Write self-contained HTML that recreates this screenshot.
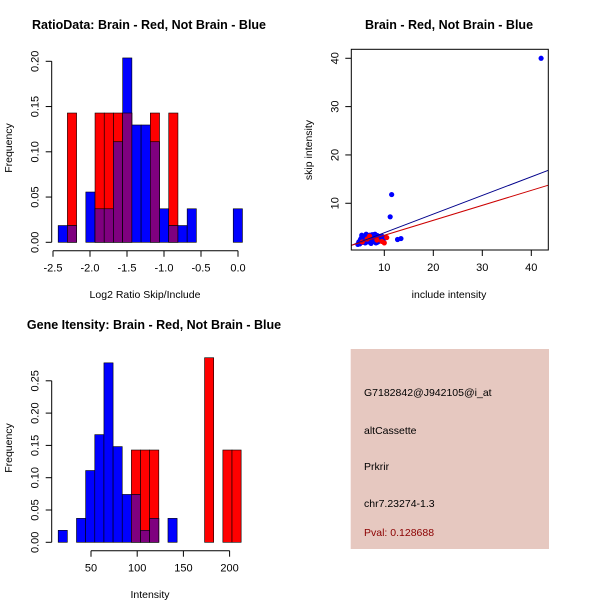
<!DOCTYPE html>
<html><head><meta charset="utf-8"><style>
body{margin:0;background:#fff;}
svg{display:block;font-family:"Liberation Sans",sans-serif;}
</style></head><body>
<svg id="c" width="600" height="600" viewBox="0 0 600 600">
<rect width="600" height="600" fill="#fff"/>
</svg>
<script>
// ---- Data: ratio histogram ----
const ratioBinStart = -2.43;
const ratioBinWidth = 0.1245;
const ratioRedCounts = [0,1,0,0,1,1,1,1,0,0,1,0,1,0,0,0,0,0,0,0];
const ratioBlueCounts = [1,1,0,3,2,2,6,11,7,7,6,2,1,1,2,0,0,0,0,2];
const ratioRedTotal = 7, ratioBlueTotal = 54;
const ratioXTicks = [-2.5,-2.0,-1.5,-1.0,-0.5,0.0];
const ratioXTickLabels = ["-2.5","-2.0","-1.5","-1.0","-0.5","0.0"];
const ratioYTicks = [0,0.05,0.10,0.15,0.20];
const ratioYTickLabels = ["0.00","0.05","0.10","0.15","0.20"];
// ---- Data: intensity histogram ----
const intBinStart = 14.5;
const intBinWidth = 9.9;
const intRedCounts = [0,0,0,0,0,0,0,0,1,1,1,0,0,0,0,0,2,0,1,1];
const intBlueCounts = [1,0,2,6,9,15,8,4,4,1,2,0,2,0,0,0,0,0,0,0];
const intRedTotal = 7, intBlueTotal = 54;
const intXTicks = [50,100,150,200];
const intXTickLabels = ["50","100","150","200"];
const intYTicks = [0,0.05,0.10,0.15,0.20,0.25];
const intYTickLabels = ["0.00","0.05","0.10","0.15","0.20","0.25"];
// ---- Data: scatter ----
const blueX = [42.0,11.5,11.2,12.7,13.4,4.8,5.1,5.3,5.6,5.8,6.0,6.2,6.4,6.6,6.8,7.0,7.2,7.4,7.6,7.8,8.0,8.2,8.4,8.6,8.8,9.0,9.3,9.6,10.0,5.0,5.5,6.1,6.7,7.3,7.9,8.5,9.1,5.4,6.3,7.1,8.1,8.9,9.8,10.4,4.6,5.9,6.9,7.7,8.7,6.5,7.5,5.2,8.3,9.5];
const blueY = [40.0,11.8,7.2,2.5,2.7,2.0,2.4,2.8,3.1,2.2,2.9,3.3,2.5,3.0,2.1,3.4,2.6,3.2,2.3,3.5,2.7,3.0,2.4,3.3,2.8,2.2,3.0,2.6,2.9,1.6,1.9,1.8,2.0,1.7,2.1,1.9,2.3,3.4,3.6,2.0,3.6,3.1,2.5,2.9,1.5,2.7,3.1,2.8,2.0,2.3,3.5,2.6,1.8,3.2];
const redX = [10.0,10.5,7.0,6.5,8.5,9.5,5.5];
const redY = [1.8,2.9,3.2,2.6,2.4,2.1,2.0];
const blueFit = [0.04,0.386];
const redFit = [0.27,0.31];
const scXTicks = [10,20,30,40];
const scXTickLabels = ["10","20","30","40"];
const scYTicks = [10,20,30,40];
const scYTickLabels = ["10","20","30","40"];

const svg = document.getElementById('c');
const NS = 'http://www.w3.org/2000/svg';
function mk(tag, attrs, parent){const e=document.createElementNS(NS,tag);for(const k in attrs)e.setAttribute(k,attrs[k]);(parent||svg).appendChild(e);return e;}
function txt(s, attrs, parent){const e=mk('text',attrs,parent);e.textContent=s;return e;}

function histogram(o){
  const g = mk('g',{});
  
  
  const xs = v => o.x0 + (v - o.xv0) * o.xk;
  const ys = v => o.base - v * o.yk;
  for(let i=0;i<o.red.length;i++){
    const l = xs(o.start + i*o.w), r = xs(o.start + (i+1)*o.w);
    const rv = o.red[i]/o.redT, bv = o.blue[i]/o.blueT;
    if(rv>0){const b=mk('rect',{x:l,y:ys(rv),width:r-l,height:ys(0)-ys(rv),fill:'#ff0000',stroke:'#000','stroke-width':0.6},g);
      
      }
    if(bv>0){const b=mk('rect',{x:l,y:ys(bv),width:r-l,height:ys(0)-ys(bv),fill:'#0000ff',stroke:'#000','stroke-width':0.6},g);
      
      }
    const m=Math.min(rv,bv);
    if(m>0){const b=mk('rect',{x:l,y:ys(m),width:r-l,height:ys(0)-ys(m),fill:'#7f007f',stroke:'#000','stroke-width':0.6},g);
      
      }
  }
  // y axis
  const ya = mk('g',{},g);
  
  
  const yt=o.yTicks;
  mk('line',{x1:o.yAxisX,x2:o.yAxisX,y1:ys(yt[0]),y2:ys(yt[yt.length-1]),stroke:'#000'},ya);
  yt.forEach((v,i)=>{mk('line',{x1:o.yAxisX-6,x2:o.yAxisX,y1:ys(v),y2:ys(v),stroke:'#000'},ya);
    txt(o.yLabels[i],{x:o.yAxisX-13,y:ys(v),'font-size':11,'text-anchor':'middle',transform:`rotate(-90 ${o.yAxisX-13} ${ys(v)})`},ya);});
  const xa = mk('g',{},g);
  
  
  const xt=o.xTicks;
  mk('line',{x1:xs(xt[0]),x2:xs(xt[xt.length-1]),y1:o.xAxisY,y2:o.xAxisY,stroke:'#000'},xa);
  xt.forEach((v,i)=>{mk('line',{x1:xs(v),x2:xs(v),y1:o.xAxisY,y2:o.xAxisY+6,stroke:'#000'},xa);
    txt(o.xLabels[i],{x:xs(v),y:o.xAxisY+21,'font-size':11,'text-anchor':'middle'},xa);});
  const t=txt(o.title,{x:o.titleX,y:o.titleY,'font-size':12.5,'font-weight':'bold','text-anchor':'middle'},g);
  
  
  const xl=txt(o.xTitle,{x:o.xTitleX,y:o.xTitleY,'font-size':10.5,'text-anchor':'middle'},g);
  
  
  const yl=txt('Frequency',{x:12,y:o.yTitleY,'font-size':10.5,'text-anchor':'middle',transform:`rotate(-90 12 ${o.yTitleY})`},g);
  
  
}

histogram({name:'ratio-histogram',x0:53,xv0:-2.5,xk:74,base:242.3,yk:905,start:ratioBinStart,w:ratioBinWidth,
  red:ratioRedCounts,blue:ratioBlueCounts,redT:ratioRedTotal,blueT:ratioBlueTotal,
  yTicks:ratioYTicks,yLabels:ratioYTickLabels,xTicks:ratioXTicks,xLabels:ratioXTickLabels,
  yAxisX:51.7,xAxisY:250.7,title:'RatioData: Brain - Red, Not Brain - Blue',titleX:149,titleY:29,
  xTitle:'Log2 Ratio Skip/Include',xTitleX:145,xTitleY:298,yTitleY:148});
histogram({name:'intensity-histogram',x0:91,xv0:50,xk:0.924,base:542.3,yk:646,start:intBinStart,w:intBinWidth,
  red:intRedCounts,blue:intBlueCounts,redT:intRedTotal,blueT:intBlueTotal,
  yTicks:intYTicks,yLabels:intYTickLabels,xTicks:intXTicks,xLabels:intXTickLabels,
  yAxisX:51.7,xAxisY:550.7,title:'Gene Itensity: Brain - Red, Not Brain - Blue',titleX:154,titleY:329,
  xTitle:'Intensity',xTitleX:150,xTitleY:598,yTitleY:448});

// scatter
(function(){
  const g=mk('g',{});
  
  
  const xs=v=>335.3+4.9*v, ys=v=>251.6-4.833*v;
  const L=351.3,R=548.3,T=49.3,B=250;
  const clip=mk('clipPath',{id:'scclip'},g);
  mk('rect',{x:L,y:T,width:R-L,height:B-T},clip);
  const pts=mk('g',{'clip-path':'url(#scclip)'},g);
  blueX.forEach((x,i)=>{const c=mk('circle',{cx:xs(x),cy:ys(blueY[i]),r:2.6,fill:'#0000ff'},pts);
    
    });
  redX.forEach((x,i)=>{const c=mk('circle',{cx:xs(x),cy:ys(redY[i]),r:2.6,fill:'#ff0000'},pts);
    
    });
  const xa0=(L-335.3)/4.9, xa1=(R-335.3)/4.9;
  const bl=mk('line',{x1:xs(xa0),y1:ys(blueFit[0]+blueFit[1]*xa0),x2:xs(xa1),y2:ys(blueFit[0]+blueFit[1]*xa1),stroke:'#00008b','stroke-width':1},pts);
  
  
  const rl=mk('line',{x1:xs(xa0),y1:ys(redFit[0]+redFit[1]*xa0),x2:xs(xa1),y2:ys(redFit[0]+redFit[1]*xa1),stroke:'#cc0000','stroke-width':1},pts);
  
  
  mk('rect',{x:L,y:T,width:R-L,height:B-T,fill:'none',stroke:'#000'},g);
  const xa=mk('g',{},g);
  
  
  scXTicks.forEach((v,i)=>{mk('line',{x1:xs(v),x2:xs(v),y1:B,y2:B+6,stroke:'#000'},xa);
    txt(scXTickLabels[i],{x:xs(v),y:B+21,'font-size':11,'text-anchor':'middle'},xa);});
  const ya=mk('g',{},g);
  
  
  scYTicks.forEach((v,i)=>{mk('line',{x1:L-6,x2:L,y1:ys(v),y2:ys(v),stroke:'#000'},ya);
    txt(scYTickLabels[i],{x:L-13,y:ys(v),'font-size':11,'text-anchor':'middle',transform:`rotate(-90 ${L-13} ${ys(v)})`},ya);});
  const t=txt('Brain - Red, Not Brain - Blue',{x:449,y:29,'font-size':12.5,'font-weight':'bold','text-anchor':'middle'},g);
  
  
  const xl=txt('include intensity',{x:449,y:298,'font-size':10.5,'text-anchor':'middle'},g);
  
  
  const yl=txt('skip intensity',{x:312,y:150,'font-size':10.5,'text-anchor':'middle',transform:'rotate(-90 312 150)'},g);
  
  
})();
</script>
<g>
</g>
<script>
(function(){
  const svg=document.getElementById('c'),NS='http://www.w3.org/2000/svg';
  const g=document.createElementNS(NS,'g');
  
  
  svg.appendChild(g);
  const r=document.createElementNS(NS,'rect');
  r.setAttribute('x',350.7);r.setAttribute('y',349);r.setAttribute('width',198.3);r.setAttribute('height',200);r.setAttribute('fill','#e6c8c0');
  g.appendChild(r);
  const lines=[['G7182842@J942105@i_at',396,'#000','probe-id'],['altCassette',434,'#000','event-type'],['Prkrir',470,'#000','gene-name'],['chr7.23274-1.3',507,'#000','location'],['Pval: 0.128688',536,'#8b0000','p-value']];
  lines.forEach(l=>{const t=document.createElementNS(NS,'text');
    t.setAttribute('x',364);t.setAttribute('y',l[1]);t.setAttribute('font-size',10.5);t.setAttribute('fill',l[2]);
    
    
    t.textContent=l[0];g.appendChild(t);});
})();
</script>
</svg>
</body></html>
